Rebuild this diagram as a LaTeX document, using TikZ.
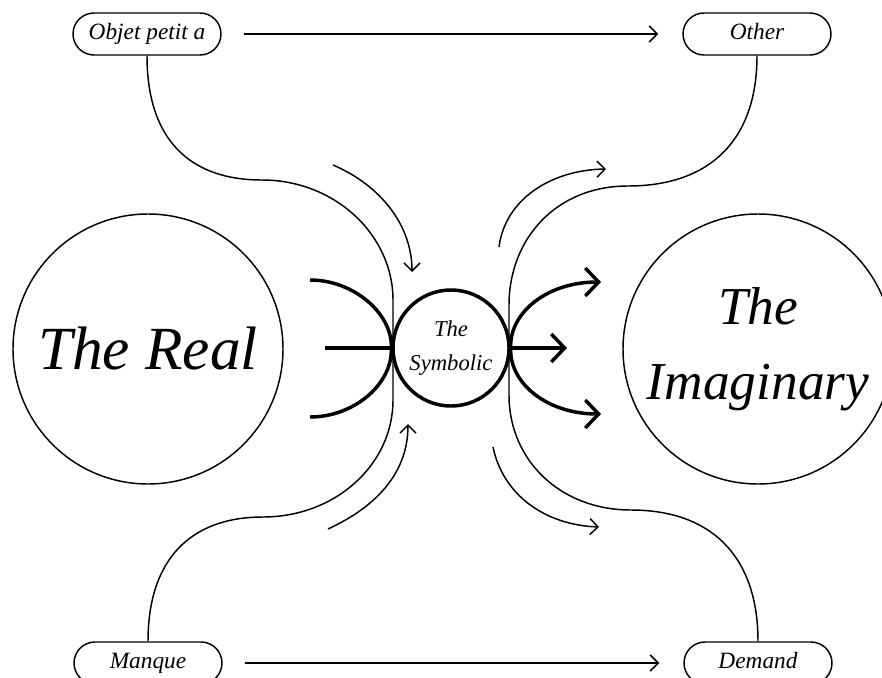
\documentclass[tikz,border=0pt]{standalone}
\usepackage{fontspec}
\setmainfont{Liberation Serif}
\usepackage{tikz}
\usetikzlibrary{arrows.meta}

\tikzset{
  pill/.style={draw, rounded corners=15.75pt, minimum width=111pt, minimum height=31.5pt, inner sep=0pt, line width=1.1pt, text height=12pt, text depth=4pt, font=\fontsize{17.5}{20}\selectfont\itshape},
  bigring/.style={draw, circle, inner sep=0pt, minimum size=202.5pt, line width=1.1pt, align=center},
  thinline/.style={line width=1.1pt},
  thinarrow/.style={line width=1.1pt, -{Straight Barb[length=6pt,width=12pt,line width=1.1pt]}},
  thickline/.style={line width=2.6pt},
  thickarrow/.style={line width=2.6pt, -{Straight Barb[length=10pt,width=21pt,line width=2.6pt]}}
}

\begin{document}
\begin{tikzpicture}[x=0.75pt,y=0.75pt,yscale=-1,xscale=1]
\useasboundingbox (0,0) rectangle (882,678);

%Shape: Circle [id:real]
\node [bigring, font=\fontsize{46}{50}\selectfont\itshape] (real) at (148,349) {The Real};
%Shape: Circle [id:imag]
\node [bigring, font=\fontsize{40}{56}\selectfont\itshape] (imag) at (758,349) {The\\Imaginary};
%Shape: Circle [id:symb]
\node [draw, circle, inner sep=0pt, minimum size=87pt, line width=2.6pt, align=center, font=\fontsize{17}{25}\selectfont\itshape] (symb) at (451,348) {The\\Symbolic};

% Rounded Rect
\node [pill] (objet) at (147,34) {Objet petit a};
\node [pill] (other) at (757,34) {Other};
\node [pill] (manque) at (148,663) {Manque};
\node [pill] (demand) at (758,663) {Demand};

%Straight Lines
\draw [thinarrow, shorten <=17pt, shorten >=18pt] (objet.east) -- (other.west);
\draw [thinarrow, shorten <=17pt, shorten >=18pt] (manque.east) -- (demand.west);

%Curve Lines
\draw [thinline] (objet.south) .. controls (147,140) and (190,180) .. (262,180) .. controls (335,180) and (393,235) .. (393,300) -- (393,400) .. controls (393,465) and (335,517) .. (263,517) .. controls (190,517) and (148,560) .. (manque.north);
%Curve Lines
\draw [thinline] (other.south) .. controls (757,140) and (710,186) .. (628,186) .. controls (555,186) and (509,240) .. (509,305) -- (509,395) .. controls (509,460) and (560,510) .. (631,510) .. controls (710,510) and (758,555) .. (demand.north);

%Curve Lines
\coordinate (tlA) at (333,165);
\coordinate (tlB) at (412,272);
\draw [thinarrow] (tlA) .. controls (380,185) and (412,225) .. (tlB);
\coordinate (blA) at (328,529);
\coordinate (blB) at (408,424);
\draw [thinarrow] (blA) .. controls (380,505) and (408,470) .. (blB);
\coordinate (trA) at (499,247);
\coordinate (trB) at (606,169);
\draw [thinarrow] (trA) .. controls (505,200) and (550,170) .. (trB);
\coordinate (brA) at (493,447);
\coordinate (brB) at (599,527);
\draw [thinarrow] (brA) .. controls (503,495) and (545,525) .. (brB);

%Thick Lines
\coordinate (inT) at (310,280);
\coordinate (inM) at (325,348);
\coordinate (inB) at (310,417);
\draw [thickline] (inT) .. controls (355,280) and (393,315) .. (symb.west);
\draw [thickline] (inM) -- (symb.west);
\draw [thickline] (inB) .. controls (355,417) and (393,383) .. (symb.west);
\coordinate (outT) at (601,282);
\coordinate (outM) at (567,348);
\coordinate (outB) at (601,414);
\draw [thickarrow] (symb.east) .. controls (509,313) and (547,282) .. (outT);
\draw [thickarrow] (symb.east) -- (outM);
\draw [thickarrow] (symb.east) .. controls (509,383) and (547,414) .. (outB);

\end{tikzpicture}
\end{document}
